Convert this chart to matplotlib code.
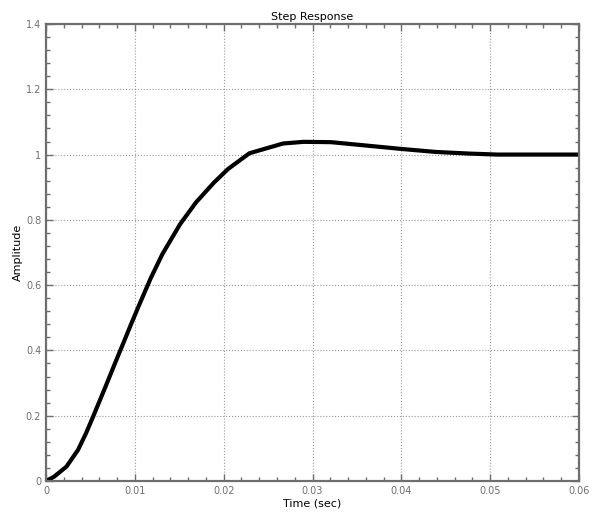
import numpy as np
import matplotlib.pyplot as plt
from matplotlib.ticker import MultipleLocator

# step response samples
t = [0, 0.0009, 0.0023, 0.0036, 0.0045, 0.0053, 0.0060, 0.0067, 0.0074,
     0.0080, 0.0087, 0.0096, 0.0105, 0.0118, 0.0131, 0.0151, 0.0169,
     0.0189, 0.0205, 0.0229, 0.0267, 0.0290, 0.0321, 0.0363,
     0.0401, 0.0439, 0.0477, 0.0508, 0.0600]
y = [0, 0.013, 0.044, 0.095, 0.146, 0.197, 0.243, 0.289, 0.336,
     0.376, 0.422, 0.482, 0.540, 0.622, 0.695, 0.787, 0.854,
     0.914, 0.956, 1.004, 1.034, 1.039, 1.038, 1.027,
     1.017, 1.008, 1.003, 1.000, 1.000]

xticks = [0, 0.01, 0.02, 0.03, 0.04, 0.05, 0.06]
xticklabels = ["0", "0.01", "0.02", "0.03", "0.04", "0.05", "0.06"]
yticks = [0, 0.2, 0.4, 0.6, 0.8, 1.0, 1.2, 1.4]
yticklabels = ["0", "0.2", "0.4", "0.6", "0.8", "1", "1.2", "1.4"]

gray = '#6e6e6e'
fig = plt.figure(figsize=(5.92, 5.18), dpi=100)
ax = fig.add_axes([46/592, 37/518, 533/592, 457/518])

ax.plot(t, y, color='black', linewidth=3, solid_joinstyle='round')

ax.set_xlim(0, 0.06)
ax.set_ylim(0, 1.4)
ax.set_xticks(xticks)
ax.set_xticklabels(xticklabels)
ax.set_yticks(yticks)
ax.set_yticklabels(yticklabels)
ax.xaxis.set_minor_locator(MultipleLocator(0.002))
ax.yaxis.set_minor_locator(MultipleLocator(0.04))

ax.grid(True, which='major', linestyle=':', color='#999999', linewidth=0.8)
ax.tick_params(which='both', direction='in', top=True, right=True, colors=gray,
               labelsize=7)
ax.tick_params(which='major', length=5, width=1)
ax.tick_params(which='minor', length=3, width=1)
for s in ax.spines.values():
    s.set_color(gray)
    s.set_linewidth(1.6)

ax.set_title("Step Response", fontsize=8, pad=3)
ax.set_xlabel("Time (sec)", fontsize=8, labelpad=2)
ax.set_ylabel("Amplitude", fontsize=8, labelpad=2)

fig.savefig("out.png", dpi=100)
